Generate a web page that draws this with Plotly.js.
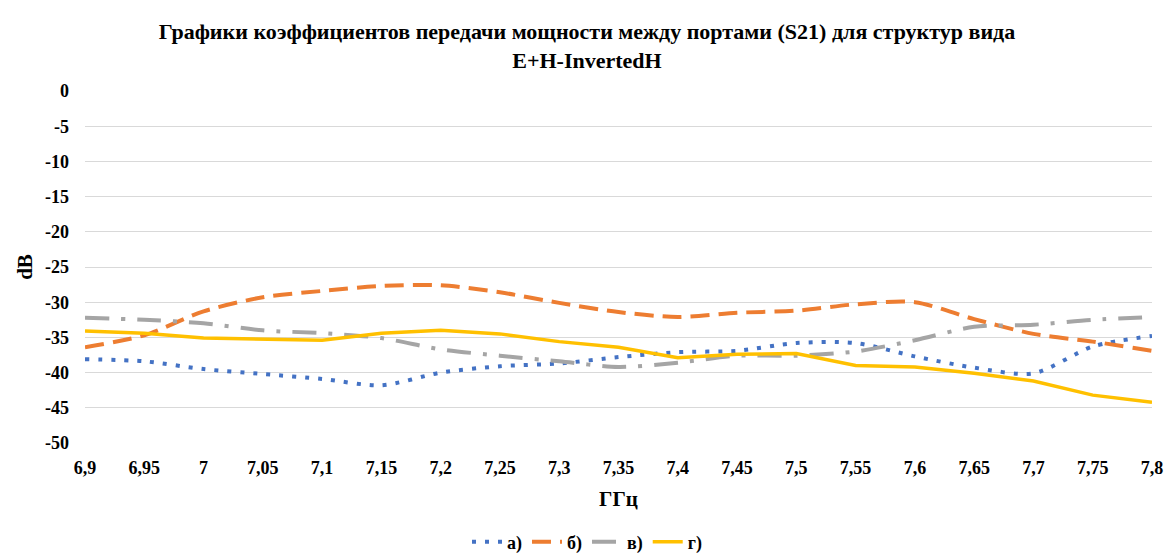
<!DOCTYPE html>
<html><head><meta charset="utf-8">
<script src="https://cdn.plot.ly/plotly-3.0.1.min.js"></script>
<style>body{margin:0;background:#fff}#chart{width:1174px;height:556px}</style>
</head><body><div id="chart"></div>
<script>
const freq = [6.9,6.95,7.0,7.05,7.1,7.15,7.2,7.25,7.3,7.35,7.4,7.45,7.5,7.55,7.6,7.65,7.7,7.75,7.8];
const tickLabels = ["6,9","6,95","7","7,05","7,1","7,15","7,2","7,25","7,3","7,35","7,4","7,45","7,5","7,55","7,6","7,65","7,7","7,75","7,8"];
const seriesA = [-38.1,-38.4,-39.5,-40.2,-40.9,-41.8,-40.0,-39.1,-38.7,-37.8,-37.1,-36.9,-35.8,-35.8,-37.7,-39.3,-40.1,-36.3,-34.8];
const seriesB = [-36.4,-34.7,-31.3,-29.3,-28.4,-27.7,-27.6,-28.6,-30.1,-31.4,-32.1,-31.5,-31.2,-30.3,-30.0,-32.4,-34.5,-35.6,-36.9];
const seriesV = [-32.2,-32.5,-33.0,-34.0,-34.4,-35.1,-36.7,-37.6,-38.4,-39.2,-38.6,-37.6,-37.6,-37.0,-35.4,-33.5,-33.2,-32.5,-32.1];
const seriesG = [-34.1,-34.4,-35.1,-35.2,-35.4,-34.4,-34.0,-34.5,-35.6,-36.4,-37.9,-37.4,-37.3,-39.0,-39.2,-40.1,-41.2,-43.2,-44.2];
const yTicks = [0,-5,-10,-15,-20,-25,-30,-35,-40,-45,-50];
const yTickLabels = ["0","-5","-10","-15","-20","-25","-30","-35","-40","-45","-50"];

const serif = '"Liberation Serif", "Times New Roman", serif';
const traces = [
  {x: freq, y: seriesA, name: 'а)', mode: 'lines', line: {color: '#4472C4', width: 4, dash: '4px,9px', shape: 'spline', smoothing: 0.8}},
  {x: freq, y: seriesB, name: 'б)', mode: 'lines', line: {color: '#ED7D31', width: 4, dash: '19px,9px', shape: 'spline', smoothing: 0.8}},
  {x: freq, y: seriesV, name: 'в)', mode: 'lines', line: {color: '#A5A5A5', width: 4, dash: '24px,12px,4px,12px', shape: 'spline', smoothing: 0.8}},
  {x: freq, y: seriesG, name: 'г)', mode: 'lines', line: {color: '#FFC000', width: 3.5}}
];
const layout = {
  width: 1174, height: 556,
  margin: {l: 85, r: 22, t: 91, b: 113},
  paper_bgcolor: '#fff', plot_bgcolor: '#fff',
  font: {family: serif, color: '#000'},
  title: {text: '<b>Графики коэффициентов передачи мощности между портами (S21) для структур вида<br>E+H-InvertedH</b>',
          font: {family: serif, size: 22, color: '#000'}, x: 0.5, xanchor: 'center', y: 0.93, yanchor: 'middle', automargin: false},
  xaxis: {range: [6.9, 7.8], tickvals: freq, ticktext: tickLabels, showgrid: false, zeroline: false, showline: false, automargin: false,
          tickfont: {family: serif, size: 18, color: '#000', weight: 'bold'}, ticks: '', ticklen: 0, ticklabelstandoff: 12,
          title: {text: '<b>ГГц</b>', font: {family: serif, size: 21, color: '#000'}, standoff: 14}},
  yaxis: {range: [-50, 0], tickvals: yTicks, ticktext: yTickLabels, showgrid: true, gridcolor: '#d9d9d9', gridwidth: 1, zeroline: false, showline: false, automargin: false,
          tickfont: {family: serif, size: 18, color: '#000', weight: 'bold'}, ticks: '', ticklen: 0, ticklabelstandoff: 15,
          title: {text: '<b>dB</b>', font: {family: serif, size: 21, color: '#000'}, standoff: 6}},
  showlegend: true,
  legend: {orientation: 'h', xref: 'container', x: 0.5, xanchor: 'center', yref: 'container', y: 0.025, yanchor: 'middle',
           font: {family: serif, size: 18, color: '#000', weight: 'bold'}, itemwidth: 30, tracegroupgap: 0}
};
Plotly.newPlot('chart', traces, layout, {displayModeBar: false, staticPlot: true});
</script></body></html>
